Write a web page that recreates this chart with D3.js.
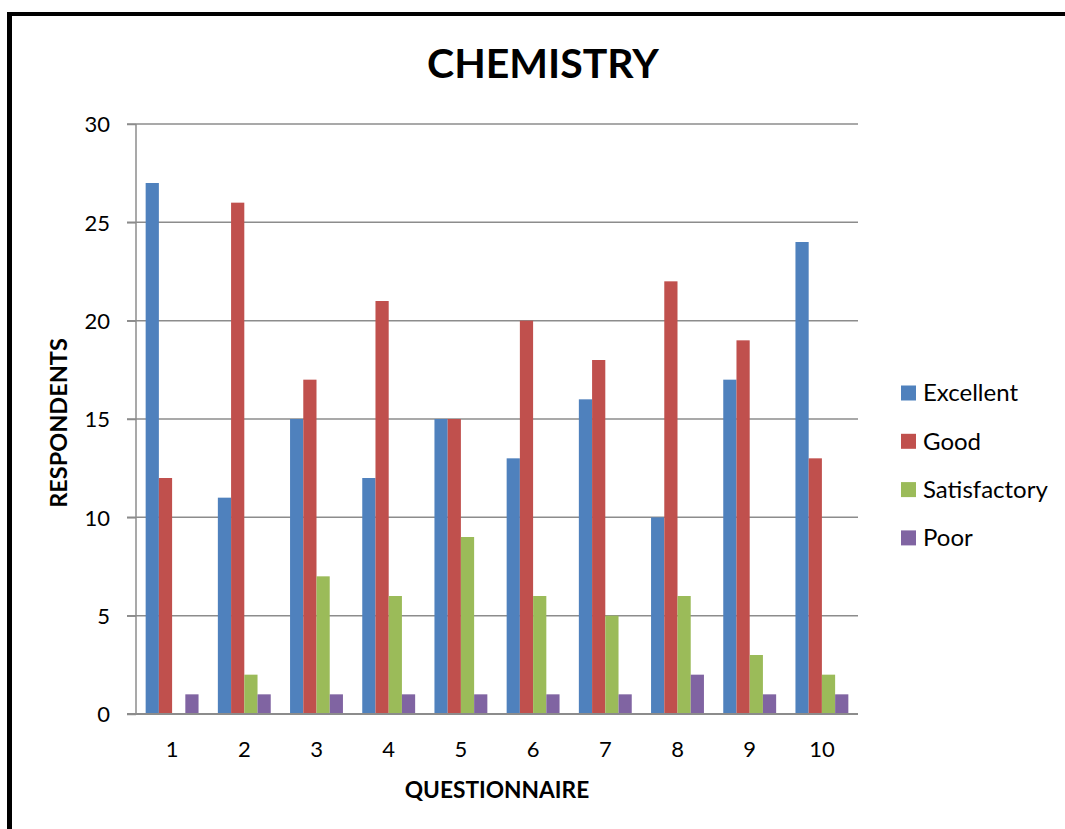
<!DOCTYPE html>
<html>
<head>
<meta charset="utf-8">
<script src="https://cdn.jsdelivr.net/npm/d3@7"></script>
<style>
  html, body { margin: 0; padding: 0; background: #fff; }
  svg { display: block; }
  text { font-family: Lato, "Open Sans", sans-serif; fill: #000; }
</style>
</head>
<body>
<svg id="chart" width="1065" height="829"></svg>
<script>
const categories = ["1","2","3","4","5","6","7","8","9","10"];
const seriesNames = ["Excellent","Good","Satisfactory","Poor"];
const excellent    = [27, 11, 15, 12, 15, 13, 16, 10, 17, 24];
const good         = [12, 26, 17, 21, 15, 20, 18, 22, 19, 13];
const satisfactory = [0, 2, 7, 6, 9, 6, 5, 6, 3, 2];
const poor         = [1, 1, 1, 1, 1, 1, 1, 2, 1, 1];
const yTicks = [0, 5, 10, 15, 20, 25, 30];
const colors = ["#4F81BD", "#C0504D", "#9BBB59", "#8064A2"];
const chartTitle = "CHEMISTRY";
const xTitle = "QUESTIONNAIRE";
const yTitle = "RESPONDENTS";

const seriesValues = [excellent, good, satisfactory, poor];

const svg = d3.select("#chart");

// frame border (left and top visible)
svg.append("rect").attr("x", 7).attr("y", 12).attr("width", 1100).attr("height", 4).attr("fill", "#000");
svg.append("rect").attr("x", 7).attr("y", 12).attr("width", 5).attr("height", 900).attr("fill", "#000");

const pLeft = 136, pRight = 858, pTop = 124, pBottom = 714;

const x0 = d3.scaleBand().domain(categories).range([pLeft, pRight]).paddingInner(0).paddingOuter(0);
const x1 = d3.scaleBand().domain(seriesNames).range([0, x0.bandwidth()]).paddingInner(0).paddingOuter(0.73);
const y = d3.scaleLinear().domain([0, 30]).range([pBottom, pTop]);

const gridColor = "#8c8c8c";

// gridlines
svg.append("g").selectAll("line").data(yTicks.filter(d => d > 0)).join("line")
  .attr("x1", pLeft - 9).attr("x2", pRight)
  .attr("y1", d => y(d)).attr("y2", d => y(d))
  .attr("stroke", gridColor).attr("stroke-width", 1.5);

// bars
const groups = svg.append("g").selectAll("g").data(categories).join("g")
  .attr("transform", d => `translate(${x0(d)},0)`);
groups.selectAll("rect")
  .data((c, i) => seriesNames.map((s, j) => ({ s, j, v: seriesValues[j][i] })))
  .join("rect")
  .attr("x", d => x1(d.s))
  .attr("width", x1.bandwidth())
  .attr("y", d => y(d.v))
  .attr("height", d => y(0) - y(d.v))
  .attr("fill", d => colors[d.j]);

// y axis
const yAxis = d3.axisLeft(y).tickValues(yTicks).tickSize(9).tickPadding(17);
const yg = svg.append("g").attr("transform", `translate(${pLeft},0)`).call(yAxis);
yg.select(".domain").attr("stroke", gridColor).attr("stroke-width", 1.5).attr("d", `M0,${pTop}V${pBottom}`);
yg.selectAll(".tick line").attr("stroke", gridColor).attr("stroke-width", 1.5);
yg.selectAll(".tick text").attr("font-size", 22).attr("font-family", "Lato, sans-serif").attr("fill", "#000").attr("dy", "0.35em");

// x axis
const xAxis = d3.axisBottom(x0).tickSize(0).tickPadding(27);
const xg = svg.append("g").attr("transform", `translate(0,${pBottom})`).call(xAxis);
xg.select(".domain").attr("stroke", gridColor).attr("stroke-width", 2).attr("d", `M${pLeft - 9},0H${pRight}`);
xg.selectAll(".tick text").attr("font-size", 22).attr("font-family", "Lato, sans-serif").attr("fill", "#000");

// titles
svg.append("text").attr("x", 543).attr("y", 78).attr("text-anchor", "middle")
  .attr("font-size", 41).attr("font-weight", "bold").text(chartTitle);
svg.append("text").attr("x", 497).attr("y", 798).attr("text-anchor", "middle")
  .attr("font-size", 22.7).attr("font-weight", "bold").text(xTitle);
svg.append("text").attr("transform", "translate(67,423) rotate(-90)").attr("text-anchor", "middle")
  .attr("font-size", 23.5).attr("font-weight", "bold").text(yTitle);

// legend
const legend = svg.append("g").selectAll("g").data(seriesNames).join("g")
  .attr("transform", (d, i) => `translate(901,${393 + i * 48.3})`);
legend.append("rect").attr("x", 0).attr("y", -7.5).attr("width", 15).attr("height", 15)
  .attr("fill", (d, i) => colors[i]);
legend.append("text").attr("x", 22).attr("y", 0).attr("dy", "0.35em")
  .attr("font-size", 24).text(d => d);
</script>
</body>
</html>
